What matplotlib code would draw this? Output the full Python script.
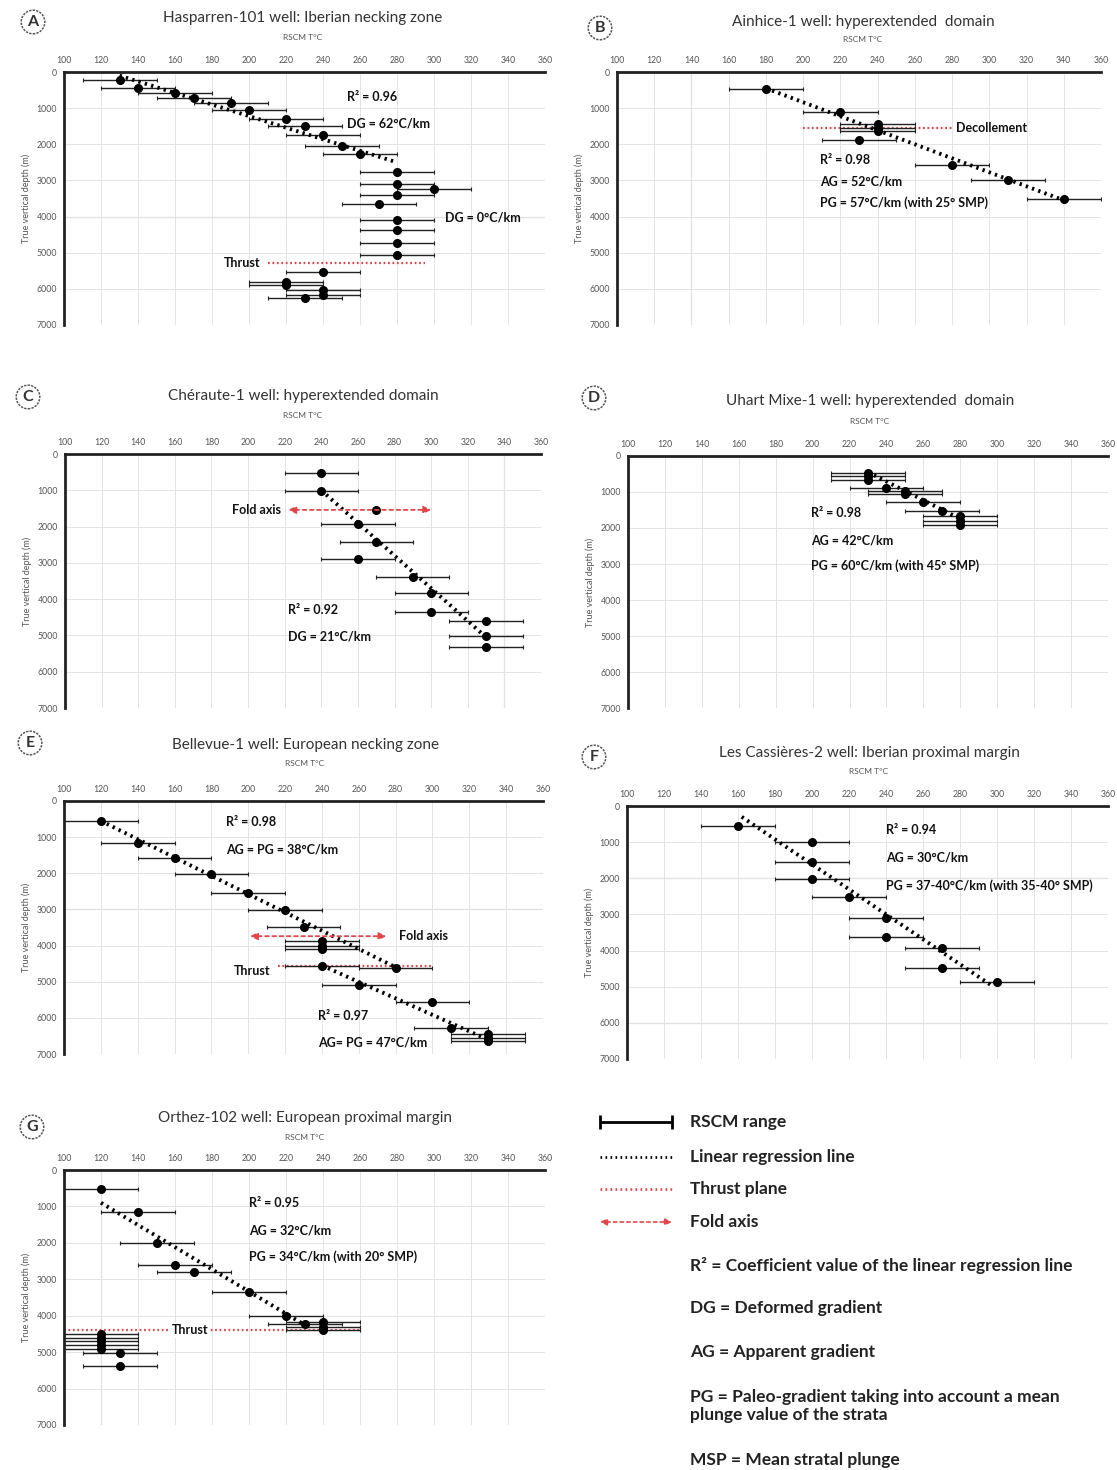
import numpy as np
import matplotlib
matplotlib.use("Agg")
import matplotlib.pyplot as plt

plt.rcParams['font.family'] = ['Lato', 'DejaVu Sans']

# --- Data (RSCM temperature in °C, true vertical depth in m) ---
# A: Hasparren-101
A_temp = [130, 140, 160, 170, 190, 200, 220, 230, 240, 250, 260, 280, 280, 300, 280, 270,
          280, 280, 280, 280, 240, 220, 220, 240, 240, 230]
A_depth = [230, 450, 570, 710, 860, 1050, 1290, 1500, 1730, 2060, 2270, 2780, 3090, 3250, 3410, 3650,
           4090, 4370, 4730, 5070, 5520, 5800, 5880, 6030, 6160, 6260]
A_err = [20] * 26
A_fit_t = [130, 280]
A_fit_d = [100, 2500]
A_thrust_t = [210, 295]
A_thrust_d = 5290

# B: Ainhice-1
B_temp = [180, 220, 240, 240, 240, 230, 280, 310, 340]
B_depth = [480, 1120, 1450, 1550, 1640, 1890, 2560, 3000, 3500]
B_err = [20] * 9
B_fit_t = [180, 340]
B_fit_d = [450, 3550]
B_decol_t = [200, 280]
B_decol_d = 1545

# C: Chéraute-1
C_temp = [240, 240, 270, 260, 270, 260, 290, 300, 300, 330, 330, 330]
C_depth = [530, 1010, 1540, 1930, 2430, 2900, 3390, 3840, 4360, 4600, 5010, 5330]
C_err = [20, 20, 0, 20, 20, 20, 20, 20, 20, 20, 20, 20]
C_fit_t = [240, 330]
C_fit_d = [1000, 5050]
C_fold_t = [222, 300]
C_fold_d = 1540

# D: Uhart Mixe-1
D_temp = [230, 230, 230, 240, 250, 250, 260, 270, 280, 280, 280]
D_depth = [470, 560, 660, 880, 970, 1060, 1270, 1540, 1680, 1800, 1920]
D_err = [20] * 11
D_fit_t = [230, 282]
D_fit_d = [450, 1800]

# E: Bellevue-1
E_temp = [120, 140, 160, 180, 200, 220, 230, 240, 240, 240, 240, 280, 260, 300, 310, 330, 330, 330]
E_depth = [550, 1170, 1570, 2020, 2550, 3010, 3490, 3880, 4000, 4100, 4570, 4610, 5090, 5560,
           6280, 6450, 6550, 6640]
E_err = [20] * 18
E_fit1_t = [120, 280]
E_fit1_d = [550, 4600]
E_fit2_t = [240, 330]
E_fit2_d = [4550, 6600]
E_fold_t = [201, 275]
E_fold_d = 3740
E_thrust_t = [216, 300]
E_thrust_d = 4570

# F: Les Cassières-2
F_temp = [160, 200, 200, 200, 220, 240, 240, 270, 270, 300]
F_depth = [550, 1000, 1540, 2030, 2530, 3110, 3620, 3930, 4470, 4870]
F_err = [20] * 10
F_fit_t = [162, 298]
F_fit_d = [300, 5000]

# G: Orthez-102
G_temp = [120, 140, 150, 160, 170, 200, 220, 230, 240, 240, 240, 120, 120, 120, 120, 120, 130, 130]
G_depth = [520, 1160, 2000, 2600, 2800, 3350, 4000, 4240, 4170, 4300, 4400, 4500, 4600, 4700,
           4800, 4900, 5020, 5370]
G_err = [20] * 18
G_fit_t = [120, 230]
G_fit_d = [900, 4250]
G_thrust_t = [100, 260]
G_thrust_d = 4400

x_ticks = list(range(100, 361, 20))
y_ticks = list(range(0, 7001, 1000))

W, H = 1117, 1470
fig = plt.figure(figsize=(W / 100, H / 100), dpi=100)
RED = '#e0474c'


def px_rect(x0, x1, y0, y1):
    return [x0 / W, 1 - y1 / H, (x1 - x0) / W, (y1 - y0) / H]


def fig_text(x, y, s, **kw):
    fig.text(x / W, 1 - y / H, s, **kw)


def make_panel(rect, title, letter, title_xy, rscm_y, letter_xy, dark_h=(), dark_v=()):
    ax = fig.add_axes(px_rect(*rect))
    ax.set_xlim(100, 360)
    ax.set_ylim(7000, 0)
    ax.set_xticks(x_ticks)
    ax.set_yticks(y_ticks)
    ax.xaxis.tick_top()
    ax.tick_params(length=0, labelsize=6.3, labelcolor='#555', pad=5)
    for s in ['bottom', 'right']:
        ax.spines[s].set_visible(False)
    for s in ['top', 'left']:
        ax.spines[s].set_linewidth(2)
        ax.spines[s].set_color('#222')
    ax.grid(True, color='#e4e4e4', lw=0.7)
    for v in dark_h:
        ax.axhline(v, color='#b5b5b5', lw=0.8, zorder=0.5)
    for v in dark_v:
        ax.axvline(v, color='#b5b5b5', lw=0.8, zorder=0.5)
    ax.set_ylabel('True vertical depth (m)', fontsize=6.5, color='#555', labelpad=4)
    fig_text(title_xy[0], title_xy[1], title, ha='center', va='center', fontsize=11, color='#333')
    fig_text(title_xy[0], rscm_y, 'RSCM T°C', ha='center', va='center', fontsize=6, color='#555')
    fig_text(letter_xy[0], letter_xy[1], letter, ha='center', va='center', fontsize=11.5,
             fontweight='bold', color='#333',
             bbox=dict(boxstyle='circle,pad=0.3', fc='white', ec='#555', lw=1.1, ls=(0, (1.5, 0.8))))
    return ax


def points(ax, t, d, e):
    ax.errorbar(t, d, xerr=e, fmt='o', color='black', ms=5.5, ecolor='#222', elinewidth=1.0,
                capsize=1.5, capthick=0.8, zorder=3)


def fit(ax, t, d):
    ax.plot(t, d, color='black', lw=2.8, ls=(0, (0.6, 1.1)), zorder=4)


def red_line(ax, t, d):
    ax.plot(t, [d, d], color=RED, lw=1.6, ls=(0, (0.8, 1.2)), zorder=2)


def fold(ax, t, d):
    ax.annotate('', xy=(t[0], d), xytext=(t[1], d),
                arrowprops=dict(arrowstyle='<|-|>', color=RED, lw=1.3, ls=(0, (2, 2)),
                                mutation_scale=11, shrinkA=0, shrinkB=0), zorder=5)


def label(ax, x, y, s, **kw):
    ax.text(x, y, s, fontsize=9, fontweight='bold', color='#111', va='center', **kw)


# --- Panel A ---
ax = make_panel((64, 545, 72, 325), 'Hasparren-101 well: Iberian necking zone', 'A',
                (303, 18), 38, (33, 22), dark_h=[4000])
points(ax, A_temp, A_depth, A_err)
fit(ax, A_fit_t, A_fit_d)
red_line(ax, A_thrust_t, A_thrust_d)
label(ax, 253, 680, 'R² = 0.96')
label(ax, 253, 1430, 'DG = 62°C/km')
label(ax, 306, 4020, 'DG = 0°C/km')
label(ax, 206, 5290, 'Thrust', ha='right')

# --- Panel B ---
ax = make_panel((617, 1101, 72, 325), 'Ainhice-1 well: hyperextended  domain', 'B',
                (863, 22), 40, (600, 28), dark_v=[140])
points(ax, B_temp, B_depth, B_err)
fit(ax, B_fit_t, B_fit_d)
red_line(ax, B_decol_t, B_decol_d)
label(ax, 282, 1545, 'Decollement')
label(ax, 209, 2440, 'R² = 0.98')
label(ax, 209, 3030, 'AG = 52°C/km')
label(ax, 209, 3610, 'PG = 57°C/km (with 25° SMP)')

# --- Panel C ---
ax = make_panel((65, 541, 454, 708), 'Chéraute-1 well: hyperextended domain', 'C',
                (303, 396), 416, (28, 397), dark_v=[340])
points(ax, C_temp, C_depth, C_err)
fit(ax, C_fit_t, C_fit_d)
fold(ax, C_fold_t, C_fold_d)
label(ax, 218, 1540, 'Fold axis', ha='right')
label(ax, 222, 4290, 'R² = 0.92')
label(ax, 222, 5030, 'DG = 21°C/km')

# --- Panel D ---
ax = make_panel((628, 1108, 456, 708), 'Uhart Mixe-1 well: hyperextended  domain', 'D',
                (870, 401), 422, (594, 398))
points(ax, D_temp, D_depth, D_err)
fit(ax, D_fit_t, D_fit_d)
label(ax, 199, 1590, 'R² = 0.98')
label(ax, 199, 2340, 'AG = 42°C/km')
label(ax, 199, 3050, 'PG = 60°C/km (with 45° SMP)')

# --- Panel E ---
ax = make_panel((64, 543, 801, 1054), 'Bellevue-1 well: European necking zone', 'E',
                (305, 745), 763, (30, 743), dark_h=[3000])
points(ax, E_temp, E_depth, E_err)
red_line(ax, E_thrust_t, E_thrust_d)
fit(ax, E_fit1_t, E_fit1_d)
fit(ax, E_fit2_t, E_fit2_d)
fold(ax, E_fold_t, E_fold_d)
label(ax, 282, 3740, 'Fold axis')
label(ax, 212, 4700, 'Thrust', ha='right')
label(ax, 188, 580, 'R² = 0.98')
label(ax, 188, 1340, 'AG = PG = 38°C/km')
label(ax, 238, 5950, 'R² = 0.97')
label(ax, 238, 6680, 'AG= PG = 47°C/km')

# --- Panel F ---
ax = make_panel((627, 1108, 806, 1059), 'Les Cassières-2 well: Iberian proximal margin', 'F',
                (869, 753), 772, (594, 757), dark_h=[2000, 6000])
points(ax, F_temp, F_depth, F_err)
fit(ax, F_fit_t, F_fit_d)
label(ax, 240, 670, 'R² = 0.94')
label(ax, 240, 1420, 'AG = 30°C/km')
label(ax, 240, 2210, 'PG = 37-40°C/km (with 35-40° SMP)')

# --- Panel G ---
ax = make_panel((64, 545, 1170, 1425), 'Orthez-102 well: European proximal margin', 'G',
                (305, 1118), 1138, (32, 1127), dark_v=[120])
points(ax, G_temp, G_depth, G_err)
fit(ax, G_fit_t, G_fit_d)
red_line(ax, G_thrust_t, G_thrust_d)
label(ax, 168, 4400, 'Thrust', ha='center',
      bbox=dict(boxstyle='square,pad=0.1', fc='white', ec='none'))
label(ax, 200, 910, 'R² = 0.95')
label(ax, 200, 1660, 'AG = 32°C/km')
label(ax, 200, 2370, 'PG = 34°C/km (with 20° SMP)')

# --- Legend ---
lg = fig.add_axes(px_rect(590, 1117, 1095, 1470))
lg.set_xlim(590, 1117)
lg.set_ylim(1470, 1095)
lg.axis('off')
lg.errorbar([636], [1122], xerr=[[36], [36]], fmt='none', ecolor='black', elinewidth=2,
            capsize=5, capthick=2)
lg.plot([600, 672], [1157, 1157], color='black', lw=2, ls=(0, (0.6, 1.2)))
lg.plot([600, 672], [1189, 1189], color=RED, lw=2, ls=(0, (0.6, 1.2)))
lg.annotate('', xy=(600, 1222), xytext=(672, 1222),
            arrowprops=dict(arrowstyle='<|-|>', color=RED, lw=1.2, ls=(0, (2, 2)),
                            mutation_scale=10, shrinkA=0, shrinkB=0))
leg_fs = 12.5
for y, s in [(1122, 'RSCM range'), (1157, 'Linear regression line'),
             (1189, 'Thrust plane'), (1222, 'Fold axis'),
             (1265, 'R² = Coefficient value of the linear regression line'),
             (1308, 'DG = Deformed gradient'), (1352, 'AG = Apparent gradient'),
             (1406, 'PG = Paleo-gradient taking into account a mean\nplunge value of the strata'),
             (1460, 'MSP = Mean stratal plunge')]:
    lg.text(690, y, s, fontsize=leg_fs, fontweight='bold', color='#222', va='center',
            linespacing=1.15)

fig.savefig('out.png', dpi=100)
